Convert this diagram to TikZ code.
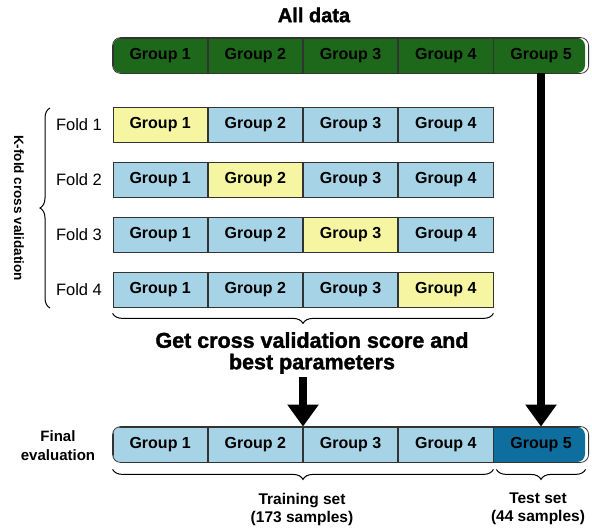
\documentclass[tikz,border=0pt]{standalone}
\usepackage{fontspec}
\setmainfont{Liberation Sans}
\newfontfamily\heavyfont[UprightFont={* Bold}, UprightFeatures={FakeBold=1.6}]{Liberation Sans}
\usetikzlibrary{positioning,arrows.meta,decorations.pathreplacing}

\definecolor{alldata}{RGB}{30,104,28}
\definecolor{trainblue}{RGB}{166,211,230}
\definecolor{valyellow}{RGB}{246,245,162}
\definecolor{testblue}{RGB}{14,110,158}

\tikzset{
  cell/.style={draw=black!80, line width=0.8pt, minimum width=94.4pt, minimum height=35pt,
    inner sep=0pt, font=\bfseries\fontsize{16}{18}\selectfont},
  train/.style={cell, fill=trainblue},
  val/.style={cell, fill=valyellow},
  whole/.style={cell, fill=alldata},
  test/.style={cell, fill=testblue},
  foldlabel/.style={font=\fontsize{16.5}{18}\selectfont},
  bigarrow/.style={line width=8pt, -{Triangle[width=30pt,length=22pt]}},
  bracket/.style={line width=1pt, decorate, decoration={brace, amplitude=10pt}},
}

\begin{document}
\begin{tikzpicture}[x=1pt,y=-1pt]
\useasboundingbox (0,0) rectangle (592,531);

% all data
\node [font=\heavyfont\fontsize{20}{24}\selectfont] (title) at (314,15) {All data};
\begin{scope}
\clip [rounded corners=8pt] (113,38) rectangle (585,73);
\node [whole] (a1) at (160.2,55.5) {Group 1};
\node [whole, right=0pt of a1] (a2) {Group 2};
\node [whole, right=0pt of a2] (a3) {Group 3};
\node [whole, right=0pt of a3] (a4) {Group 4};
\node [whole, right=0pt of a4] (a5) {Group 5};
\end{scope}
\draw [black!80, line width=0.8pt, rounded corners=8pt] (a1.north west) rectangle (a5.south east);

% folds
\node [val] (f11) at (160.2,124.5) {Group 1};
\node [train, right=0pt of f11] (f12) {Group 2};
\node [train, right=0pt of f12] (f13) {Group 3};
\node [train, right=0pt of f13] (f14) {Group 4};

\node [train] (f21) at (160.2,179.5) {Group 1};
\node [val, right=0pt of f21] (f22) {Group 2};
\node [train, right=0pt of f22] (f23) {Group 3};
\node [train, right=0pt of f23] (f24) {Group 4};

\node [train] (f31) at (160.2,234.5) {Group 1};
\node [train, right=0pt of f31] (f32) {Group 2};
\node [val, right=0pt of f32] (f33) {Group 3};
\node [train, right=0pt of f33] (f34) {Group 4};

\node [train] (f41) at (160.2,289.5) {Group 1};
\node [train, right=0pt of f41] (f42) {Group 2};
\node [train, right=0pt of f42] (f43) {Group 3};
\node [val, right=0pt of f43] (f44) {Group 4};

\node [foldlabel] (l1) at (79,124.5) {Fold 1};
\node [foldlabel] (l2) at (79,179.5) {Fold 2};
\node [foldlabel] (l3) at (79,234.5) {Fold 3};
\node [foldlabel] (l4) at (79,289.5) {Fold 4};

\coordinate (kb) at (50,308);
\coordinate (kt) at (50,108);
\draw [bracket] (kb) -- (kt);
\node [rotate=-90, font=\bfseries\fontsize{13.5}{16}\selectfont] (kfold) at (19,208) {K-fold cross validation};

\draw [bracket] ([yshift=-6pt]f44.south east) -- ([yshift=-6pt]f41.south west);
\node [align=center, font=\heavyfont\fontsize{21.5}{21.5}\selectfont] (cv) at (312,353)
  {Get cross validation score and\\best parameters};

% final evaluation
\node [align=center, font=\bfseries\fontsize{15}{19}\selectfont] (final) at (58,446) {Final\\evaluation};
\begin{scope}
\clip [rounded corners=8pt] (113,427) rectangle (585,462);
\node [train] (e1) at (160.2,444.5) {Group 1};
\node [train, right=0pt of e1] (e2) {Group 2};
\node [train, right=0pt of e2] (e3) {Group 3};
\node [train, right=0pt of e3] (e4) {Group 4};
\node [test, right=0pt of e4] (e5) {Group 5};
\end{scope}
\draw [black!80, line width=0.8pt, rounded corners=8pt] (e1.north west) rectangle (e5.south east);

\draw [bracket] ([yshift=-7pt]e4.south east) -- ([yshift=-7pt]e1.south west);
\draw [bracket] ([xshift=-3pt,yshift=-7pt]e5.south east) -- ([xshift=3pt,yshift=-7pt]e5.south west);
\node [align=center, font=\bfseries\fontsize{15.5}{18}\selectfont] (trainset) at (302,509) {Training set\\(173 samples)};
\node [align=center, font=\bfseries\fontsize{15.5}{18}\selectfont] (testset) at (538,509) {Test set\\(44 samples)};

% arrows
\draw [bigarrow] (cv.south -| e2.north east) -- (e2.north east);
\draw [bigarrow] (a5.south) -- (e5.north);

\end{tikzpicture}
\end{document}
